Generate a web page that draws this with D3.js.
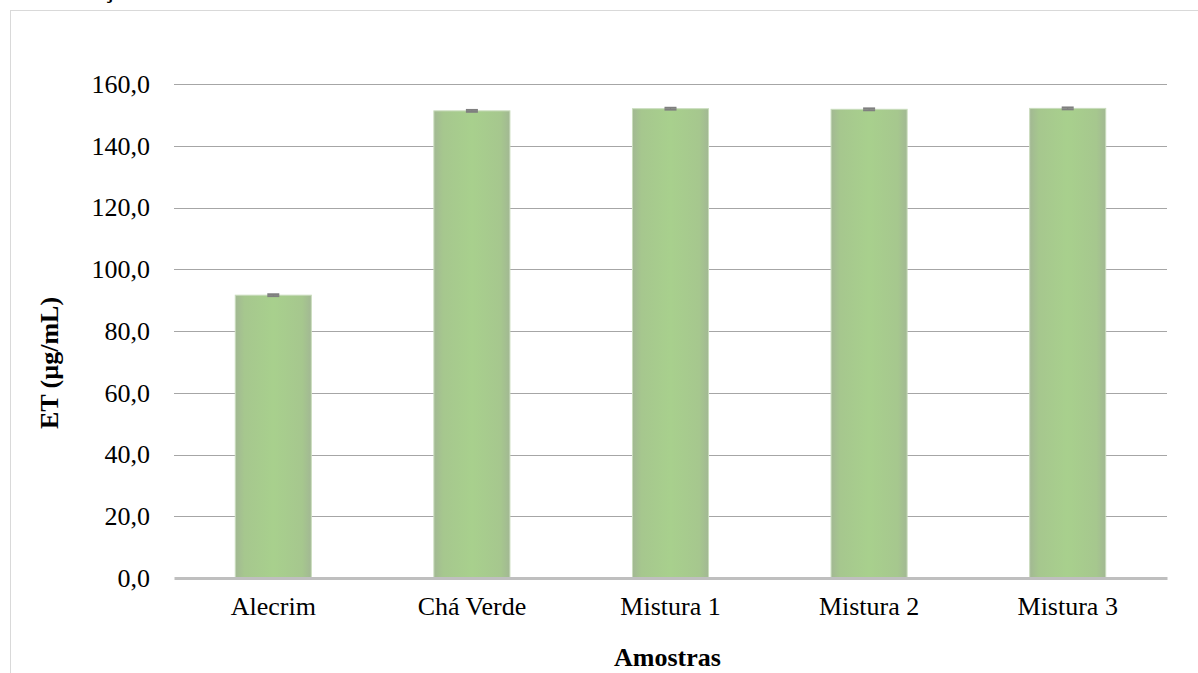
<!DOCTYPE html>
<html>
<head>
<meta charset="utf-8">
<script src="https://cdn.jsdelivr.net/npm/d3@7"></script>
<style>
  html, body { margin: 0; padding: 0; background: #ffffff; }
  svg { display: block; font-family: "Liberation Serif", "Times New Roman", serif; }
</style>
</head>
<body>
<svg id="chart" width="1198" height="673"></svg>
<script>
// Sample names and mean ET concentrations (µg/mL) with standard deviations
const categories = ["Alecrim", "Chá Verde", "Mistura 1", "Mistura 2", "Mistura 3"];
const values = [91.6, 151.3, 152.0, 151.8, 152.1];
const errors = [0.3, 0.3, 0.3, 0.3, 0.3];
const yTicks = [0, 20, 40, 60, 80, 100, 120, 140, 160];
const xTitle = "Amostras";
const yTitle = "ET (µg/mL)";

const FONT = "'Liberation Serif', 'Times New Roman', serif";
const svg = d3.select("#chart");
const W = 1198, H = 673;
const margin = { left: 174, right: 31, top: 84, bottom: 95 };
const plotW = W - margin.left - margin.right;
const plotH = H - margin.top - margin.bottom;

// Outer chart frame
svg.append("rect")
  .attr("x", 10.5).attr("y", 10.5)
  .attr("width", W + 20).attr("height", H + 20)
  .attr("fill", "none").attr("stroke", "#d9d9d9").attr("stroke-width", 1);

// Caption fragment above the frame
svg.append("text")
  .attr("x", 109).attr("y", -2)
  .attr("font-family", FONT)
  .attr("font-weight", "bold").attr("font-size", 24)
  .attr("text-anchor", "middle")
  .text("ç");

const defs = svg.append("defs");
const grad = defs.append("linearGradient").attr("id", "barGrad")
  .attr("x1", "0%").attr("x2", "100%").attr("y1", "0%").attr("y2", "0%");
grad.append("stop").attr("offset", "0%").attr("stop-color", "#a2b893");
grad.append("stop").attr("offset", "12%").attr("stop-color", "#a6c78e");
grad.append("stop").attr("offset", "50%").attr("stop-color", "#a8d08d");
grad.append("stop").attr("offset", "88%").attr("stop-color", "#a6c78e");
grad.append("stop").attr("offset", "100%").attr("stop-color", "#a2b893");

const g = svg.append("g").attr("transform", `translate(${margin.left},${margin.top})`);

const x = d3.scaleBand().domain(categories).range([0, plotW]).paddingInner(0.617).paddingOuter(0.3085);
const y = d3.scaleLinear().domain([0, 160]).range([plotH, 0]);

// Horizontal gridlines
g.append("g")
  .selectAll("line")
  .data(yTicks.filter(t => t > 0))
  .join("line")
  .attr("x1", 0).attr("x2", plotW)
  .attr("y1", d => Math.round(y(d)) + 0.5).attr("y2", d => Math.round(y(d)) + 0.5)
  .attr("stroke", "#a6a6a6").attr("stroke-width", 1);

// Y axis tick labels
const yAxis = d3.axisLeft(y).tickValues(yTicks).tickSize(0).tickPadding(24)
  .tickFormat(d => d3.format(".1f")(d).replace(".", ","));
g.append("g").call(yAxis)
  .call(s => s.select(".domain").remove())
  .selectAll("text")
  .attr("font-family", FONT)
  .attr("font-size", 26).attr("fill", "#000");

// Bars
g.append("g")
  .selectAll("rect")
  .data(categories)
  .join("rect")
  .attr("x", d => x(d))
  .attr("width", x.bandwidth())
  .attr("y", (d, i) => y(values[i]))
  .attr("height", (d, i) => plotH - y(values[i]))
  .attr("fill", "url(#barGrad)")
  .attr("stroke", "#c9dcbc").attr("stroke-width", 1);

// Error bars
const eb = g.append("g");
categories.forEach((c, i) => {
  const cx = x(c) + x.bandwidth() / 2;
  const y1 = y(values[i] + errors[i]), y2 = y(values[i] - errors[i]);
  eb.append("line").attr("x1", cx).attr("x2", cx).attr("y1", y1).attr("y2", y2)
    .attr("stroke", "#7f7f7f").attr("stroke-width", 1);
  [y1, y2].forEach(yy => eb.append("line")
    .attr("x1", cx - 6).attr("x2", cx + 6).attr("y1", yy).attr("y2", yy)
    .attr("stroke", "#7f7f7f").attr("stroke-width", 2));
});

// Baseline axis with category labels
const xAxis = d3.axisBottom(x).tickSize(0).tickPadding(19);
g.append("g").attr("transform", `translate(0,${plotH})`).call(xAxis)
  .call(s => s.select(".domain").attr("stroke", "#bfbfbf").attr("stroke-width", 3))
  .selectAll("text")
  .attr("font-family", FONT)
  .attr("font-size", 26).attr("fill", "#000");

// Axis titles
svg.append("text")
  .attr("x", margin.left + plotW / 2 - 3).attr("y", 666)
  .attr("font-family", FONT)
  .attr("text-anchor", "middle").attr("font-weight", "bold").attr("font-size", 26)
  .text(xTitle);

svg.append("text")
  .attr("transform", `translate(58,${363}) rotate(-90)`)
  .attr("font-family", FONT)
  .attr("text-anchor", "middle").attr("font-weight", "bold").attr("font-size", 26)
  .text(yTitle);
</script>
</body>
</html>
